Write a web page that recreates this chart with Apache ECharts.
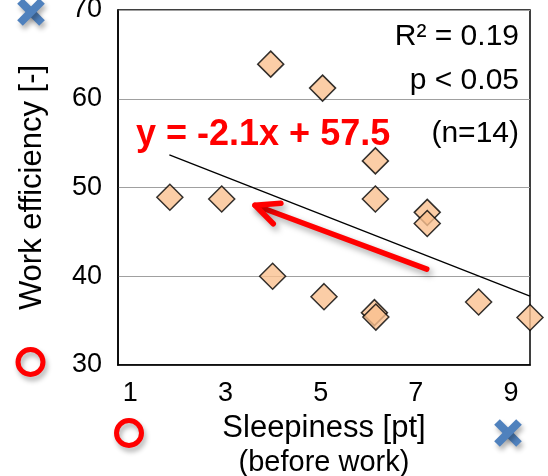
<!DOCTYPE html>
<html>
<head>
<meta charset="utf-8">
<script src="https://cdn.jsdelivr.net/npm/echarts@6/dist/echarts.min.js"></script>
<style>
  html, body { margin: 0; padding: 0; background: #ffffff; }
  #chart { width: 548px; height: 476px; }
</style>
</head>
<body>
<div id="chart"></div>
<script>
// Sleepiness before work vs. work efficiency, one value per participant
const sleepiness = [1.83, 2.92, 3.95, 3.99, 5.04, 5.07, 6.15, 6.15, 6.13, 6.16, 7.24, 7.24, 8.32, 9.40];
const efficiency = [48.9, 48.7, 63.9, 40.0, 61.2, 37.7, 53.0, 48.7, 35.9, 35.4, 47.2, 45.95, 37.1, 35.35];

// Axis ticks
const xTickValues = [1, 3, 5, 7, 9];
const yTickValues = [30, 40, 50, 60, 70];

// Linear fit as printed on the chart
const fitSlope = -2.1;
const fitIntercept = 57.5;
const fitXRange = [1.82, 9.40];
const equationLabel = 'y = -2.1x + 57.5';
const statLabels = ['R\u00B2 = 0.19', 'p < 0.05', '(n=14)'];

// Trend arrow, in data units (tail -> head)
const arrowTail = [7.23, 40.8];
const arrowHead = [3.62, 48.0];

const FONT = "'Liberation Sans', Arial, Helvetica, sans-serif";

const points = sleepiness.map((x, i) => [x, efficiency[i]]);
const fitLine = fitXRange.map(x => [x, fitSlope * x + fitIntercept]);

const chart = echarts.init(document.getElementById('chart'), null, { renderer: 'canvas' });

chart.setOption({
  animation: false,
  backgroundColor: '#ffffff',
  grid: {
    left: 118, top: 10, right: 18, bottom: 111,
    containLabel: false,
    outerBoundsMode: 'none',
    show: true, borderColor: '#000000', borderWidth: 1.5, backgroundColor: 'transparent'
  },
  xAxis: {
    type: 'value',
    min: 0.74, max: 9.4,
    axisLine: { show: true, lineStyle: { color: '#000000', width: 1.5 } },
    axisTick: { show: false },
    splitLine: { show: false },
    axisLabel: {
      customValues: xTickValues,
      color: '#000000', fontFamily: FONT, fontSize: 27, margin: 15
    },
    name: '{a|Sleepiness [pt]}\n{b|(before work)}',
    nameLocation: 'middle',
    nameGap: 45,
    nameTextStyle: {
      color: '#000000', fontFamily: FONT, verticalAlign: 'top',
      rich: {
        a: { fontSize: 31, fontFamily: FONT, color: '#000000', lineHeight: 36 },
        b: { fontSize: 29, fontFamily: FONT, color: '#000000', lineHeight: 34 }
      }
    }
  },
  yAxis: {
    type: 'value',
    min: yTickValues[0], max: yTickValues[yTickValues.length - 1], interval: 10,
    axisLine: { show: true, lineStyle: { color: '#000000', width: 1.5 } },
    axisTick: { show: false },
    splitLine: { show: true, lineStyle: { color: '#A0A0A0', width: 1.2 } },
    axisLabel: { color: '#000000', fontFamily: FONT, fontSize: 27, margin: 16 },
    name: 'Work efficiency [-]',
    nameLocation: 'middle',
    nameGap: 70,
    nameTextStyle: { color: '#000000', fontFamily: FONT, fontSize: 31 }
  },
  series: [
    {
      type: 'line',
      data: fitLine,
      showSymbol: false,
      symbol: 'none',
      lineStyle: { color: '#000000', width: 1.3 },
      silent: true,
      z: 2
    },
    {
      type: 'scatter',
      data: points,
      symbol: 'diamond',
      symbolSize: 26,
      clip: false,
      itemStyle: { color: '#FAC090', borderColor: '#000000', borderWidth: 1.5 },
      z: 3
    }
  ]
});

// Annotations: trend arrow, fit equation, statistics and the marks outside the plot
const tail = chart.convertToPixel({ gridIndex: 0 }, arrowTail);
const head = chart.convertToPixel({ gridIndex: 0 }, arrowHead);
const ang = Math.atan2(tail[1] - head[1], tail[0] - head[0]);
const armLen = 26, armSpread = 25 * Math.PI / 180;
const arm1 = [head[0] + armLen * Math.cos(ang - armSpread), head[1] + armLen * Math.sin(ang - armSpread)];
const arm2 = [head[0] + armLen * Math.cos(ang + armSpread), head[1] + armLen * Math.sin(ang + armSpread)];

const shadow = { shadowBlur: 6, shadowOffsetX: 3, shadowOffsetY: 4, shadowColor: 'rgba(0,0,0,0.35)' };
const redArrowStyle = Object.assign({ stroke: '#FF0000', lineWidth: 5.5, lineCap: 'round', lineJoin: 'round', fill: null }, shadow);

function crossMark(cx, cy, s) {
  const st = { stroke: '#4F81BD', lineWidth: 8, lineCap: 'butt', shadowBlur: 5, shadowOffsetX: 2, shadowOffsetY: 4, shadowColor: 'rgba(0,0,0,0.3)' };
  return [
    { type: 'line', shape: { x1: cx - s, y1: cy - s, x2: cx + s, y2: cy + s }, style: st, z: 10 },
    { type: 'line', shape: { x1: cx - s, y1: cy + s, x2: cx + s, y2: cy - s }, style: st, z: 10 }
  ];
}
function circleMark(cx, cy) {
  return {
    type: 'circle', shape: { cx: cx, cy: cy, r: 12.5 },
    style: { stroke: '#FF0000', lineWidth: 5, fill: null, shadowBlur: 5, shadowOffsetX: 2, shadowOffsetY: 4, shadowColor: 'rgba(0,0,0,0.3)' },
    z: 10
  };
}

const statStyle = { fontFamily: FONT, fontSize: 30, fill: '#000000', align: 'right', verticalAlign: 'middle' };

chart.setOption({
  graphic: [
    { type: 'polyline', shape: { points: [tail, head] }, style: redArrowStyle, z: 20 },
    { type: 'polyline', shape: { points: [arm1, head, arm2] }, style: redArrowStyle, z: 20 },
    {
      type: 'text', x: 136, y: 135, z: 20,
      style: { text: equationLabel, fontFamily: FONT, fontSize: 36, fontWeight: 'bold', fill: '#FF0000', verticalAlign: 'middle' }
    },
    { type: 'text', x: 519, y: 37, z: 20, style: Object.assign({ text: statLabels[0] }, statStyle) },
    { type: 'text', x: 519, y: 81, z: 20, style: Object.assign({ text: statLabels[1] }, statStyle) },
    { type: 'text', x: 519, y: 134, z: 20, style: Object.assign({ text: statLabels[2] }, statStyle) },
    ...crossMark(31, 12, 11),
    ...crossMark(508, 433, 11),
    circleMark(30.5, 362),
    circleMark(129, 433)
  ]
});
</script>
</body>
</html>
